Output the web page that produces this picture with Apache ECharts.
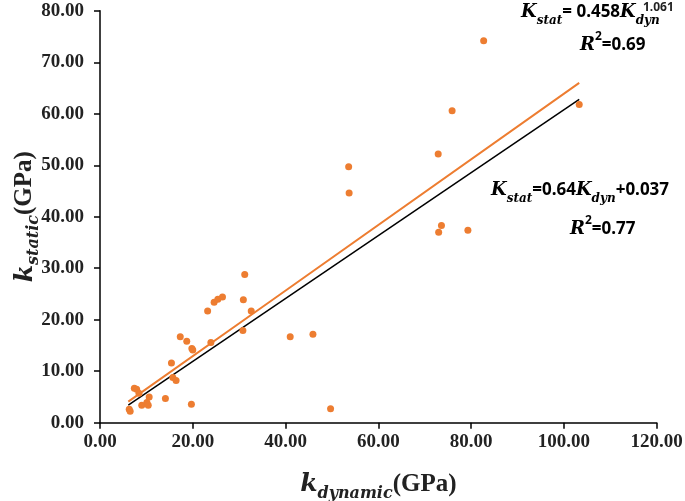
<!DOCTYPE html>
<html>
<head>
<meta charset="utf-8">
<script src="https://cdn.jsdelivr.net/npm/echarts@6/dist/echarts.min.js"></script>
<style>html,body{margin:0;padding:0;background:#fff}#c{width:685px;height:501px}</style>
</head>
<body>
<div id="c"></div>
<script>
const kDynamic = [6.3,6.5,7.4,7.9,8.4,9.0,10.1,10.4,10.6,14.1,15.4,15.7,16.4,17.3,18.7,19.8,20.0,19.7,23.2,23.9,24.6,25.4,26.4,30.9,31.2,32.6,30.8,41.0,45.9,49.7,53.6,53.7,82.7,75.9,72.9,103.3,73.6,73.0,79.3];
const kStatic  = [2.6,2.2,6.7,6.5,5.7,3.4,3.9,3.4,5.0,4.7,11.6,8.8,8.2,16.7,15.8,14.4,14.1,3.6,21.7,15.6,23.4,24.0,24.4,23.9,28.8,21.7,17.9,16.7,17.2,2.7,49.7,44.6,74.2,60.6,52.2,61.8,38.3,37.0,37.4];
const linearFitX = [6.1, 103.3];
const linearFitY = [3.4, 62.8];
const powerFitX = [6.1, 36.6, 103.3];
const powerFitY = [4.1, 23.5, 66.0];
const xTicks = [0,20,40,60,80,100,120];
const yTicks = [0,10,20,30,40,50,60,70,80];

const chart = echarts.init(document.getElementById('c'));
const tickFont = {fontFamily:'Liberation Serif', fontWeight:'bold', fontSize:19, color:'#222'};
const mathK = {fontFamily:'DejaVu Serif', fontStyle:'italic', fontWeight:'bold', fontSize:18, color:'#222', verticalAlign:'middle'};
const mathSub = {fontFamily:'DejaVu Serif', fontStyle:'italic', fontWeight:'bold', fontSize:12, color:'#222', verticalAlign:'bottom'};
const numSty = {fontFamily:'Noto Sans', fontWeight:'bold', fontSize:17, color:'#222', verticalAlign:'middle'};
const supSty = {fontFamily:'Noto Sans', fontWeight:'bold', fontSize:12, color:'#222', verticalAlign:'top'};
const nameRich = {
  k:{fontFamily:'DejaVu Serif', fontStyle:'italic', fontWeight:'bold', fontSize:25, color:'#222', verticalAlign:'middle', lineHeight:34},
  s:{fontFamily:'DejaVu Serif', fontStyle:'italic', fontWeight:'bold', fontSize:16, color:'#222', verticalAlign:'bottom', lineHeight:34},
  g:{fontFamily:'Liberation Serif', fontWeight:'bold', fontSize:25, color:'#222', verticalAlign:'middle', lineHeight:34}
};

chart.setOption({
  animation:false,
  grid:{left:100, right:28.3, top:10.8, bottom:78.3, containLabel:false, outerBoundsMode:'none'},
  xAxis:{
    type:'value', min:xTicks[0], max:xTicks[xTicks.length-1], interval:20,
    splitLine:{show:false},
    axisLine:{show:true, lineStyle:{color:'#000', width:1.5}},
    axisTick:{show:true, length:6, lineStyle:{color:'#000', width:1.5}},
    axisLabel:Object.assign({margin:10, formatter:v=>v.toFixed(2)}, tickFont),
    name:'{k|k}{s|dynamic}{g|(GPa)}', nameLocation:'middle', nameGap:45, nameMoveOverlap:false,
    nameTextStyle:{rich:nameRich}
  },
  yAxis:{
    type:'value', min:yTicks[0], max:yTicks[yTicks.length-1], interval:10,
    splitLine:{show:false},
    axisLine:{show:true, lineStyle:{color:'#000', width:1.5}},
    axisTick:{show:true, length:6, lineStyle:{color:'#000', width:1.5}},
    axisLabel:Object.assign({margin:16, formatter:v=>v.toFixed(2)}, tickFont),
    name:'{k|k}{s|static}{g|(GPa)}', nameLocation:'middle', nameGap:58, nameRotate:90, nameMoveOverlap:false,
    nameTextStyle:{rich:nameRich}
  },
  series:[
    {type:'line', data:powerFitX.map((x,i)=>[x,powerFitY[i]]), showSymbol:false, symbol:'none',
     lineStyle:{color:'#ED7D31', width:2}, z:3},
    {type:'line', data:linearFitX.map((x,i)=>[x,linearFitY[i]]), showSymbol:false, symbol:'none',
     lineStyle:{color:'#000', width:1.5}, z:3},
    {type:'scatter', data:kDynamic.map((x,i)=>[x,kStatic[i]]), symbolSize:7,
     itemStyle:{color:'#ED7D31', opacity:1}, z:4}
  ],
  graphic:[
    {type:'text', left:521, top:3, style:{
      text:'{k|K}{s|stat}{n|= 0.458}{k|K}{s|dyn}',
      rich:{k:Object.assign({lineHeight:30},mathK), s:Object.assign({lineHeight:30},mathSub), n:Object.assign({lineHeight:30},numSty)}
    }},
    {type:'text', left:643, top:2, style:{text:'1.061', font:'bold 12px "Noto Sans"', fill:'#222'}},
    {type:'text', left:580, top:31, style:{
      text:'{k|R}{p|2}{n|=0.69}',
      rich:{k:Object.assign({lineHeight:28},mathK), p:Object.assign({lineHeight:28},supSty), n:Object.assign({lineHeight:28},numSty)}
    }},
    {type:'text', left:491, top:181, style:{
      text:'{k|K}{s|stat}{n|=0.64}{k|K}{s|dyn}{n|+0.037}',
      rich:{k:Object.assign({lineHeight:30},mathK), s:Object.assign({lineHeight:30},mathSub), n:Object.assign({lineHeight:30},numSty)}
    }},
    {type:'text', left:570, top:215, style:{
      text:'{k|R}{p|2}{n|=0.77}',
      rich:{k:Object.assign({lineHeight:28},mathK), p:Object.assign({lineHeight:28},supSty), n:Object.assign({lineHeight:28},numSty)}
    }}
  ]
});
</script>
</body>
</html>
